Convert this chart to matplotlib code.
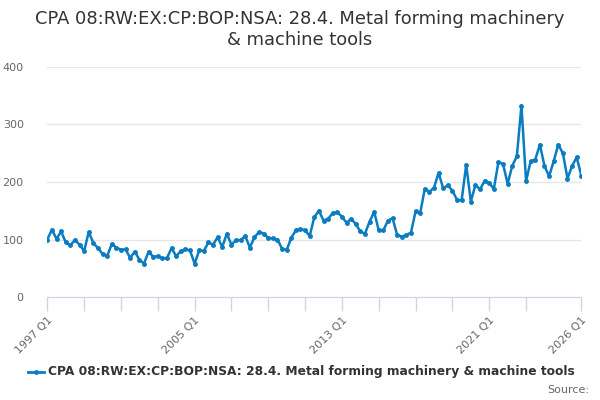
import numpy as np
import matplotlib
matplotlib.use("Agg")
import matplotlib.pyplot as plt

# quarterly values, 1997 Q1 .. 2026 Q1
values = [
    100, 117, 101, 114, 95, 90, 99, 91, 80, 113,
    94, 85, 75, 71, 92, 86, 82, 83, 68, 79,
    65, 58, 79, 70, 71, 67, 68, 85, 71, 80,
    83, 81, 58, 81, 80, 95, 91, 104, 87, 110,
    91, 99, 99, 106, 86, 104, 113, 110, 103, 102,
    100, 84, 82, 103, 116, 118, 116, 106, 139, 150,
    133, 136, 146, 147, 140, 129, 136, 127, 114, 110,
    131, 148, 116, 116, 133, 137, 108, 105, 108, 112,
    149, 146, 188, 183, 190, 216, 189, 194, 185, 169,
    168, 230, 166, 195, 187, 202, 198, 188, 235, 231,
    197, 228, 245, 333, 202, 236, 239, 265, 228, 210,
    236, 265, 250, 206, 228, 243, 211,
]
start_year = 1997
tick_years = [1997, 1999, 2001, 2003, 2005, 2007, 2009, 2011, 2013,
              2015, 2017, 2019, 2021, 2023, 2026]
label_years = [1997, 2005, 2013, 2021, 2026]
y_ticks = [0, 100, 200, 300, 400]

title = "CPA 08:RW:EX:CP:BOP:NSA: 28.4. Metal forming machinery\n& machine tools"
series_name = "CPA 08:RW:EX:CP:BOP:NSA: 28.4. Metal forming machinery & machine tools"

blue = "#0a7cc1"
grey_txt = "#666666"
axis_col = "#ccd6eb"

fig = plt.figure(figsize=(6, 4), dpi=100)
ax = fig.add_axes([47.3 / 600, 103 / 400, (581.3 - 47.3) / 600, 230 / 400])

x = np.arange(len(values))
ax.plot(x, values, color=blue, lw=1.8, marker="o", ms=2.5, zorder=3)

ax.set_xlim(0, len(values) - 1)
ax.set_ylim(0, 400)

ax.set_yticks(y_ticks)
ax.set_yticklabels([str(v) for v in y_ticks], color=grey_txt, fontsize=8)
ax.yaxis.grid(True, color="#e6e6e6", lw=1)
ax.tick_params(axis="y", length=0, pad=17)

tpos = [(yr - start_year) * 4 for yr in tick_years]
ax.set_xticks(tpos)
ax.set_xticklabels([f"{yr} Q1" if yr in label_years else "" for yr in tick_years],
                   rotation=45, ha="right", rotation_mode="anchor",
                   color=grey_txt, fontsize=8)
ax.tick_params(axis="x", length=10, color=axis_col, width=1, pad=3)

for s in ["top", "right", "left"]:
    ax.spines[s].set_visible(False)
ax.spines["bottom"].set_color(axis_col)
ax.set_axisbelow(True)

fig.text(0.5, 1 - 9.5 / 400, title, ha="center", va="top", fontsize=12.9,
         color="#333333", linespacing=1.27)

# legend
ly = 1 - 372 / 400
fig.lines.append(plt.Line2D([28 / 600, 44 / 600], [ly, ly],
                            color=blue, lw=2, transform=fig.transFigure))
fig.lines.append(plt.Line2D([36 / 600], [ly], marker="o", ms=2.5,
                            color=blue, transform=fig.transFigure))
fig.text(48 / 600, ly, series_name, ha="left", va="center",
         fontsize=8.85, fontweight="bold", color="#333333")
fig.text(589 / 600, 1 - 390 / 400, "Source:", ha="right", va="center",
         fontsize=8, color=grey_txt)

fig.savefig("out.png", dpi=100)
